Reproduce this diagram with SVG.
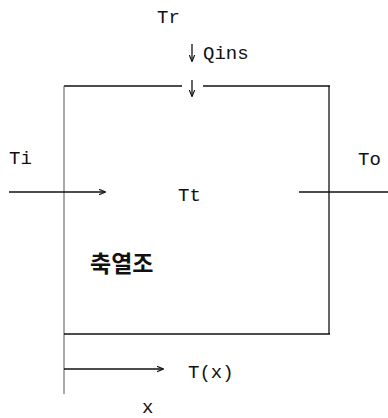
<svg xmlns="http://www.w3.org/2000/svg" width="388" height="418" viewBox="0 0 388 418">
<style>
text{font-family:"Liberation Mono","DejaVu Sans Mono",monospace;font-size:19px;fill:#111}
.ko{font-family:"Noto Sans CJK KR","Noto Sans",sans-serif;font-size:23px;font-weight:bold}
.ln{stroke:#111;stroke-width:1.3;fill:none}
.thin{stroke:#555;stroke-width:1;fill:none}
</style>
<defs>
<marker id="ah" viewBox="0 0 10 10" refX="9" refY="5" markerWidth="7" markerHeight="7" orient="auto" markerUnits="userSpaceOnUse">
<path d="M0,1 L10,5 L0,9" fill="none" stroke="#111" stroke-width="1.6"/>
</marker>
</defs>
<g id="box">
<line class="ln" x1="64" y1="86" x2="182" y2="86"/>
<line class="ln" x1="203" y1="86" x2="330" y2="86"/>
<line class="ln" x1="329" y1="86" x2="329" y2="334"/>
<line class="thin" x1="64" y1="86" x2="64" y2="394"/>
<line class="ln" x1="64" y1="334" x2="330" y2="334" stroke-width="2"/>
</g>
<g id="connectors">
<line class="ln" x1="192" y1="44" x2="192" y2="61" marker-end="url(#ah)"/>
<line class="ln" x1="192" y1="80" x2="192" y2="96" marker-end="url(#ah)"/>
<line class="ln" x1="9" y1="192" x2="105" y2="192" marker-end="url(#ah)"/>
<line class="ln" x1="299" y1="192" x2="388" y2="192"/>
<line class="ln" x1="64" y1="369" x2="163" y2="369" marker-end="url(#ah)"/>
</g>
<g id="labels">
<text x="157" y="23">Tr</text>
<text x="203" y="59">Qins</text>
<text x="9" y="164">Ti</text>
<text x="358" y="165">To</text>
<text x="178" y="201">Tt</text>
<text class="ko" x="90" y="272">축열조</text>
<text x="188" y="378">T(x)</text>
<text x="142" y="413">x</text>
</g>
</svg>
